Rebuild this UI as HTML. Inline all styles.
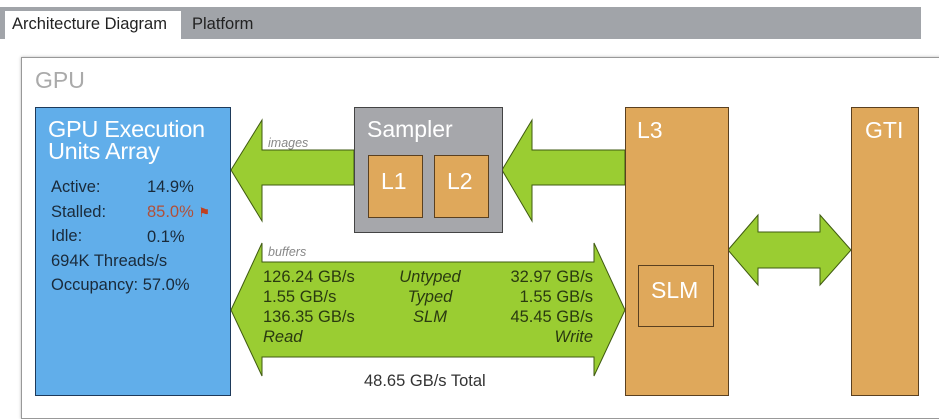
<!DOCTYPE html>
<html><head><style>
body{margin:0;width:939px;height:400px;background:#fff;position:relative;overflow:hidden;font-family:"Liberation Sans",sans-serif}
.a{position:absolute}
</style></head><body>
<div class="a" style="left:0;top:7px;width:921px;height:32px;background:#a1a4a9"></div>
<div class="a" style="left:5px;top:11px;width:176px;height:28px;background:#fff"></div>
<div class="a" style="left:12px;top:15px;font-size:16.5px;color:#222">Architecture Diagram</div>
<div class="a" style="left:192px;top:15px;font-size:16.5px;color:#222">Platform</div>
<div class="a" style="left:21px;top:57px;width:920px;height:360px;border:1px solid #999;border-right:none;box-shadow:0 0 3px #bbb"></div>
<div class="a" style="left:35px;top:67px;font-size:23px;color:#aaa">GPU</div>

<svg class="a" style="left:0;top:0" width="939" height="400">
<g fill="#9acd32" stroke="#3f5a10" stroke-width="1">
<polygon points="231,170 262,120 262,150 354,150 354,185 262,185 262,221"/>
<polygon points="502,170 532,120 532,150 625,150 625,185 532,185 532,221"/>
<polygon points="231,310 262,243 262,262 594,262 594,243 625,310 594,376 594,357 262,357 262,376"/>
<polygon points="728,250 758,215 758,232 820,232 820,215 851,250 820,285 820,268 758,268 758,285"/>
</g>
<rect x="35.5" y="107.5" width="195" height="288" fill="#61aeea" stroke="#1e3a5a"/>
<rect x="354.5" y="107.5" width="148" height="125" fill="#a6a7ab" stroke="#444"/>
<rect x="368.5" y="155.5" width="54" height="62" fill="#dfa85b" stroke="#5a4020"/>
<rect x="434.5" y="155.5" width="54" height="62" fill="#dfa85b" stroke="#5a4020"/>
<rect x="625.5" y="107.5" width="103" height="288" fill="#dfa85b" stroke="#5a4020"/>
<rect x="638.5" y="265.5" width="75" height="61" fill="#dfa85b" stroke="#5a4020"/>
<rect x="851.5" y="107.5" width="67" height="288" fill="#dfa85b" stroke="#5a4020"/>
</svg>

<div class="a" style="left:48px;top:118px;font-size:23.5px;line-height:22px;color:#fff;letter-spacing:-0.3px">GPU Execution<br>Units Array</div>
<div class="a" style="left:51px;top:175px;font-size:16.5px;line-height:24.5px;color:#1a2a3a">Active:<br>Stalled:<br>Idle:<br>694K Threads/s<br>Occupancy: 57.0%</div>
<div class="a" style="left:147px;top:175px;font-size:16.5px;line-height:24.5px;color:#1a2a3a">14.9%<br><span style="color:#b0503a">85.0% <span style="font-size:13px;color:#c04020">&#9873;</span></span><br>0.1%</div>
<div class="a" style="left:367px;top:116px;font-size:23px;color:#fff">Sampler</div>
<div class="a" style="left:381px;top:168px;font-size:23px;color:#fff">L1</div>
<div class="a" style="left:447px;top:168px;font-size:23px;color:#fff">L2</div>
<div class="a" style="left:637px;top:117px;font-size:23px;color:#fff">L3</div>
<div class="a" style="left:651px;top:277px;font-size:23px;color:#fff">SLM</div>
<div class="a" style="left:865px;top:117px;font-size:23px;color:#fff">GTI</div>
<div class="a" style="left:268px;top:136px;font-size:12.5px;font-style:italic;color:#888">images</div>
<div class="a" style="left:268px;top:245px;font-size:12.5px;font-style:italic;color:#888">buffers</div>
<div class="a" style="left:263px;top:267px;font-size:16.5px;line-height:20px;color:#2a3a10">126.24 GB/s<br>1.55 GB/s<br>136.35 GB/s<br><i>Read</i></div>
<div class="a" style="left:370px;top:267px;width:120px;text-align:center;font-size:16.5px;line-height:20px;color:#2a3a10;font-style:italic">Untyped<br>Typed<br>SLM</div>
<div class="a" style="left:473px;top:267px;width:120px;text-align:right;font-size:16.5px;line-height:20px;color:#2a3a10">32.97 GB/s<br>1.55 GB/s<br>45.45 GB/s<br><i>Write</i></div>
<div class="a" style="left:364px;top:372px;font-size:16.5px;color:#333">48.65 GB/s Total</div>
</body></html>
